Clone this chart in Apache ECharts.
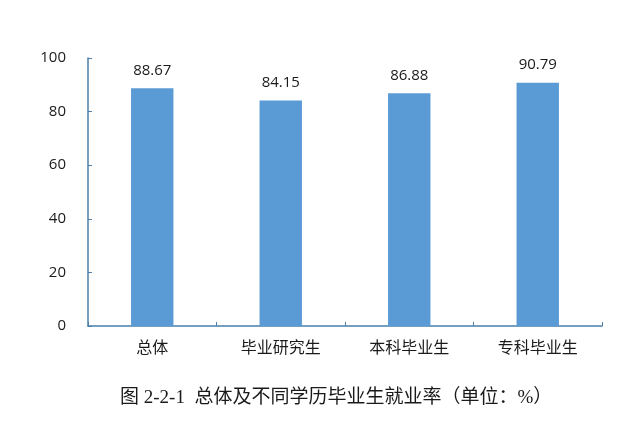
<!DOCTYPE html>
<html><head><meta charset="utf-8">
<script src="https://cdn.jsdelivr.net/npm/echarts@6/dist/echarts.min.js"></script>
<style>html,body{margin:0;padding:0;background:#fff}#c{width:640px;height:426px}</style>
</head><body><div id="c"></div>
<script>
var categories = ['总体', '毕业研究生', '本科毕业生', '专科毕业生'];
var values = [88.67, 84.15, 86.88, 90.79];
var yTicks = [0, 20, 40, 60, 80, 100];
var caption = '图 2-2-1  总体及不同学历毕业生就业率（单位：%）';

var chart = echarts.init(document.getElementById('c'));
var axisColor = '#4a7fab';
chart.setOption({
  backgroundColor: '#ffffff',
  animation: false,
  grid: {left: 88, right: 38, top: 58, bottom: 100},
  title: {
    text: caption, left: 115, top: 384,
    textStyle: {fontFamily: "'Liberation Serif','Noto Sans CJK SC',serif", fontSize: 19, fontWeight: 'normal', color: '#1a1a1a'}
  },
  xAxis: {
    type: 'category', data: categories,
    axisLine: {lineStyle: {color: axisColor, width: 1.5}},
    axisTick: {show: true, inside: true, length: 4, alignWithLabel: false, lineStyle: {color: axisColor}},
    axisLabel: {color: '#1a1a1a', fontSize: 16, margin: 13, fontFamily: "'Noto Sans CJK SC',sans-serif"}
  },
  yAxis: {
    type: 'value', min: yTicks[0], max: yTicks[yTicks.length - 1], interval: 20,
    axisLine: {show: true, lineStyle: {color: axisColor, width: 1.5}},
    axisTick: {show: true, inside: true, length: 4, lineStyle: {color: axisColor}},
    splitLine: {show: false},
    axisLabel: {color: '#1a1a1a', fontSize: 15, margin: 22, fontFamily: "'Open Sans','Noto Sans',sans-serif"}
  },
  series: [{
    type: 'bar', data: values, barWidth: '33%',
    itemStyle: {color: '#5b9bd5'},
    label: {show: true, position: 'top', distance: 10, color: '#1a1a1a', fontSize: 15,
      fontFamily: "'Open Sans','Noto Sans',sans-serif",
      formatter: function (p) { return p.value.toFixed(2); }}
  }]
});
</script></body></html>
